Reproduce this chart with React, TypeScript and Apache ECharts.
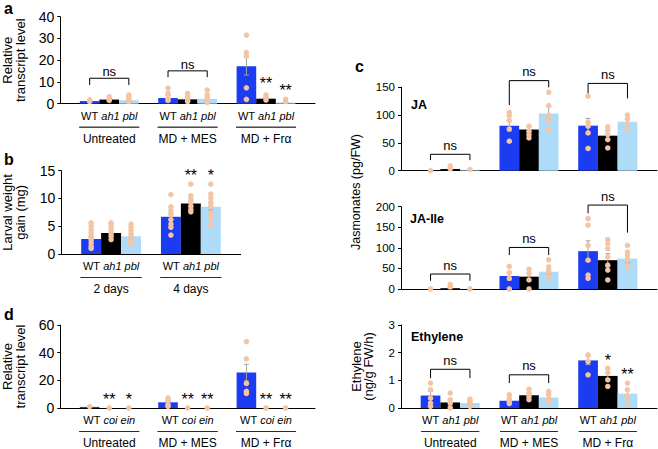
import React, { useEffect, useRef } from 'react';
import * as echarts from 'echarts';

const FONT = '"Liberation Sans", Arial, Helvetica, sans-serif';

const treatments = ['Untreated', 'MD + MES', 'MD + Frα'];
const days = ['2 days', '4 days'];
const genotypesAh = ['WT', 'ah1', 'pbl'];
const genotypesCoi = ['WT', 'coi', 'ein'];
const barColors = ['#1c3cf2', '#000000', '#aedcf8'];
const dotColor = '#f5c4a3';

// Panel a: relative transcript level
const aMeans = [[1.2, 1.9, 1.6], [2.6, 2.0, 2.2], [17.2, 2.3, 0.6]];
const aSE = [[0.3, 0.4, 0.6], [1.2, 0.8, 1.0], [4.0, 0.5, 0.3]];
const aDots = [
  [[1.8, 1.0], [3.2, 2.2, 1.5], [4.0, 3.0, 2.0, 1.0]],
  [[7.2, 4.8, 2.5, 1.5], [4.8, 3.3, 1.7, 1.0], [6.3, 4.1, 2.5, 1.5, 0.5]],
  [[31.5, 23.5, 22.0, 7.3, 2.0], [4.1, 3.0, 1.7], [2.0, 1.0]],
];
const aStars = [[2, 1, '**', 10.9], [2, 2, '**', 7.6]];
const aBrackets = [[0, 11.7, 8.6, 8.6], [1, 15.1, 12.2, 12.2]];

// Panel b: larval weight gain
const bMeans = [[2.7, 3.8, 3.2], [6.7, 9.1, 8.5]];
const bSE = [[0.35, 0.3, 0.35], [0.5, 0.4, 0.6]];
const bDots = [
  [[5.6, 5.0, 4.4, 3.8, 3.2, 2.6, 2.0, 1.4, 1.0], [5.6, 5.0, 4.4, 3.8, 3.2, 2.6], [5.4, 4.8, 4.2, 3.6, 3.0, 2.4, 1.8]],
  [[10.7, 8.5, 7.8, 7.2, 6.2, 5.4, 4.8, 3.4], [12.6, 10.5, 9.9, 9.3, 8.6, 8.0, 7.6], [12.6, 10.8, 10.1, 9.3, 8.6, 7.4, 6.4, 5.3]],
];
const bStars = [[1, 1, '**', 14.7], [1, 2, '*', 14.7]];
const bBrackets: number[][] = [];

// Panel d: relative transcript level (coi / ein)
const dMeans = [[0.8, 0, 0], [4.1, 0, 0], [25.6, 0, 0]];
const dSE = [[0.2, 0, 0], [1.5, 0, 0], [6.0, 0, 0]];
const dDots = [
  [[1.0], [0], [0]],
  [[7.3, 5.6, 2.4, 1.2], [0], [0]],
  [[48.0, 35.5, 17.8, 12.0, 10.5], [0], [0]],
];
const dStars = [[0, 1, '**', 8.9], [0, 2, '*', 8.9], [1, 1, '**', 8.9], [1, 2, '**', 8.9], [2, 1, '**', 8.9], [2, 2, '**', 8.9]];
const dBrackets: number[][] = [];

// Panel c: JA
const jaMeans = [[0, 3, 1], [81, 74, 103], [81, 63, 88]];
const jaSE = [[0, 2, 0.5], [9.5, 4, 12], [13, 7.6, 4]];
const jaDots = [
  [[0], [8.5, 4], [2]],
  [[105, 99, 90, 75, 53], [80, 71, 65, 59], [141, 117, 99, 90, 74]],
  [[134, 87, 80, 68, 40], [79, 74, 65, 56, 41], [100, 93, 84, 74]],
];
const jaBrackets = [[0, 29.5, 19, 19], [1, 162, 118, 150], [2, 157, 139, 130]];
const jaStars: any[] = [];

// Panel c: JA-Ile
const ileMeans = [[0, 2, 0], [31.5, 30, 42], [92, 70, 74]];
const ileSE = [[0, 1.5, 0], [10, 8, 6], [25, 16, 10]];
const ileDots = [
  [[0], [11, 5], [0]],
  [[55, 40, 26, 0], [48, 38, 22, 0], [71, 54, 42, 30]],
  [[171, 155, 106, 70, 34, 26], [120, 110, 98, 78, 58, 46, 22], [106, 90, 80, 70, 54]],
];
const ileBrackets = [[0, 36.4, 20, 20], [1, 101, 82.5, 82.5], [2, 204, 184, 137]];
const ileStars: any[] = [];

// Panel c: Ethylene
const ethMeans = [[0.45, 0.2, 0.18], [0.26, 0.46, 0.38], [1.72, 1.16, 0.52]];
const ethSE = [[0.15, 0.1, 0.05], [0.06, 0.08, 0.07], [0.15, 0.1, 0.15]];
const ethDots = [
  [[0.9, 0.66, 0.36, 0.18, 0.06], [0.54, 0.3, 0.18, 0.0], [0.32, 0.24, 0.16, 0.06]],
  [[0.48, 0.36, 0.24, 0.16], [0.68, 0.54, 0.42, 0.3], [0.6, 0.48, 0.32, 0.24]],
  [[1.92, 1.68, 1.2], [1.44, 1.28, 1.02, 0.78], [0.9, 0.66, 0.42, 0.18]],
];
const ethStars = [[2, 1, '*', 1.86], [2, 2, '**', 1.32]];
const ethBrackets = [[0, 1.4, 1.08, 1.08], [1, 1.2, 0.9, 0.9]];

type Panel = {
  groups: string[]; genos: string[]; means: number[][]; se: number[][]; dots: number[][][];
  stars: any[]; brackets: number[][]; box: number[]; yMax: number; yInt: number; tickFont: number;
  yName?: string; nameGap?: number; showX: boolean; nsGap: number; lineW: number;
};

const panels: Panel[] = [
  { groups: treatments, genos: genotypesAh, means: aMeans, se: aSE, dots: aDots, stars: aStars, brackets: aBrackets,
    box: [58, 16.7, 257, 87], yMax: 40, yInt: 10, tickFont: 14, yName: 'Relative\ntranscript level', nameGap: 34, showX: true, nsGap: 0, lineW: 60 },
  { groups: days, genos: genotypesAh, means: bMeans, se: bSE, dots: bDots, stars: bStars, brackets: bBrackets,
    box: [58, 170.7, 182.7, 83.3], yMax: 15, yInt: 5, tickFont: 14, yName: 'Larval weight\ngain (mg)', nameGap: 35, showX: true, nsGap: 0, lineW: 61 },
  { groups: treatments, genos: genotypesCoi, means: dMeans, se: dSE, dots: dDots, stars: dStars, brackets: dBrackets,
    box: [58, 325, 257, 83.3], yMax: 60, yInt: 20, tickFont: 14, yName: 'Relative\ntranscript level', nameGap: 34, showX: true, nsGap: 0, lineW: 60 },
  { groups: treatments, genos: genotypesAh, means: jaMeans, se: jaSE, dots: jaDots, stars: jaStars, brackets: jaBrackets,
    box: [401, 87.3, 256, 83.4], yMax: 150, yInt: 50, tickFont: 11.5, showX: false, nsGap: 2.5, lineW: 58 },
  { groups: treatments, genos: genotypesAh, means: ileMeans, se: ileSE, dots: ileDots, stars: ileStars, brackets: ileBrackets,
    box: [401, 206.7, 256, 82.3], yMax: 200, yInt: 50, tickFont: 11.5, showX: false, nsGap: 2.5, lineW: 58 },
  { groups: treatments, genos: genotypesAh, means: ethMeans, se: ethSE, dots: ethDots, stars: ethStars, brackets: ethBrackets,
    box: [401, 325, 256, 83.3], yMax: 3, yInt: 1, tickFont: 11.5, yName: 'Ethylene\n(ng/g FW/h)', nameGap: 26, showX: true, nsGap: 2.5, lineW: 58 },
];

const slotOf = (g: number, k: number) => 1 + 4 * g + k;

function buildOption() {
  const grid: any[] = [];
  const xAxis: any[] = [];
  const yAxis: any[] = [];
  const series: any[] = [];

  panels.forEach((p, i) => {
    const n = p.groups.length;
    const slots = 4 * n + 1;
    grid.push({ left: p.box[0], top: p.box[1], width: p.box[2], height: p.box[3] });
    xAxis.push({
      type: 'category', gridIndex: i, boundaryGap: true,
      data: Array.from({ length: slots }, (_, j) => 's' + j),
      axisLine: { show: true, lineStyle: { color: '#000', width: 1 } },
      axisTick: { show: false },
      axisLabel: p.showX ? {
        show: true, margin: 5, color: '#000', fontSize: 11, fontFamily: FONT,
        interval: (j: number) => j > 0 && (j - 1) % 4 === 1,
        formatter: (_v: string, j: number) => {
          const g = Math.floor((j - 1) / 4);
          if (g < 0 || g >= n) return '';
          return `{n|${p.genos[0]}} {i|${p.genos[1]}} {i|${p.genos[2]}}\n{ln|}\n{g|${p.groups[g]}}`;
        },
        rich: {
          n: { fontSize: 11, lineHeight: 14, fontFamily: FONT, color: '#000' },
          i: { fontSize: 11, lineHeight: 14, fontStyle: 'italic', fontFamily: FONT, color: '#000' },
          ln: { width: p.lineW, height: 0, lineHeight: 9, borderColor: '#222', borderWidth: 0.8 },
          g: { fontSize: 12, lineHeight: 14, fontFamily: FONT, color: '#000' },
        },
      } : { show: false },
    });
    yAxis.push({
      type: 'value', gridIndex: i, min: 0, max: p.yMax, interval: p.yInt,
      axisLine: { show: true, lineStyle: { color: '#000', width: 1 } },
      axisTick: { show: true, length: 3, lineStyle: { color: '#000' } },
      splitLine: { show: false },
      axisLabel: { fontSize: p.tickFont, color: '#000', margin: 6, fontFamily: FONT },
      name: p.yName || '', nameLocation: 'middle', nameGap: p.nameGap || 30,
      nameTextStyle: { fontSize: 13, lineHeight: 12.5, color: '#000', fontFamily: FONT },
    });

    const barData: any[] = Array.from({ length: slots }, () => '-');
    const errData: number[][] = [];
    const dotData: number[][] = [];
    p.means.forEach((row, g) => row.forEach((m, k) => {
      barData[slotOf(g, k)] = { value: m, itemStyle: { color: barColors[k] } };
      if (p.se[g][k] > 0) errData.push([slotOf(g, k), m, p.se[g][k]]);
      p.dots[g][k].forEach((v) => dotData.push([slotOf(g, k), v]));
    }));

    series.push({
      type: 'bar', xAxisIndex: i, yAxisIndex: i, barCategoryGap: '0%', data: barData, z: 2,
    });
    series.push({
      type: 'custom', xAxisIndex: i, yAxisIndex: i, z: 3, data: errData,
      renderItem: (_params: any, api: any) => {
        const x = api.value(0), m = api.value(1), s = api.value(2);
        const hi = api.coord([x, m + s]);
        const lo = api.coord([x, Math.max(0, m - s)]);
        const hw = 2.5;
        const st = { stroke: '#a3a3a3', lineWidth: 1 };
        return {
          type: 'group', children: [
            { type: 'line', shape: { x1: hi[0], y1: hi[1], x2: lo[0], y2: lo[1] }, style: st },
            { type: 'line', shape: { x1: hi[0] - hw, y1: hi[1], x2: hi[0] + hw, y2: hi[1] }, style: st },
            { type: 'line', shape: { x1: lo[0] - hw, y1: lo[1], x2: lo[0] + hw, y2: lo[1] }, style: st },
          ],
        };
      },
    });
    series.push({
      type: 'scatter', xAxisIndex: i, yAxisIndex: i, z: 4, symbol: 'circle', symbolSize: 5.5,
      itemStyle: { color: dotColor, opacity: 1 }, data: dotData,
    });
    if (p.brackets.length) {
      series.push({
        type: 'custom', xAxisIndex: i, yAxisIndex: i, z: 5, clip: false,
        data: p.brackets.map((b) => [slotOf(b[0], 0), b[1], b[2], b[3], slotOf(b[0], 2)]),
        renderItem: (_params: any, api: any) => {
          const xl = api.value(0), top = api.value(1), lb = api.value(2), rb = api.value(3), xr = api.value(4);
          const tl = api.coord([xl, top]);
          const tr = api.coord([xr, top]);
          const bl = api.coord([xl, lb]);
          const br = api.coord([xr, rb]);
          return {
            type: 'group', children: [
              { type: 'polyline', shape: { points: [bl, tl, tr, br] }, style: { stroke: '#000', lineWidth: 1, fill: null } },
              { type: 'text', x: (tl[0] + tr[0]) / 2, y: tl[1] - p.nsGap,
                style: { text: 'ns', font: `13px ${FONT}`, fill: '#000', align: 'center', textAlign: 'center', verticalAlign: 'bottom', textVerticalAlign: 'bottom' } },
            ],
          };
        },
      });
    }
    if (p.stars.length) {
      series.push({
        type: 'custom', xAxisIndex: i, yAxisIndex: i, z: 5, clip: false,
        data: p.stars.map((s) => [slotOf(s[0], s[1]), s[3]]),
        renderItem: (params: any, api: any) => {
          const c = api.coord([api.value(0), api.value(1)]);
          const txt = p.stars[params.dataIndex][2];
          return {
            type: 'text', x: c[0], y: c[1] + 3.5,
            style: { text: txt, font: `16px ${FONT}`, fill: '#000', align: 'center', textAlign: 'center', verticalAlign: 'middle', textVerticalAlign: 'middle' },
          };
        },
      });
    }
  });

  const txt = (text: string, x: number, y: number, font: string, extra: any = {}) => ({
    type: 'text', x, y, ...extra,
    style: { text, font, fill: '#000', align: 'left', textAlign: 'left', verticalAlign: 'middle', textVerticalAlign: 'middle' },
  });

  const graphic = [
    txt('a', 4, 8, `bold 16px ${FONT}`),
    txt('b', 4, 159.5, `bold 16px ${FONT}`),
    txt('c', 355, 66.5, `bold 16px ${FONT}`),
    txt('d', 4, 314.5, `bold 16px ${FONT}`),
    txt('JA', 411, 105, `bold 12.5px ${FONT}`),
    txt('JA-Ile', 410, 219, `bold 12.5px ${FONT}`),
    txt('Ethylene', 411, 337, `bold 12.5px ${FONT}`),
    {
      type: 'text', x: 356, y: 192, rotation: Math.PI / 2,
      style: { text: 'Jasmonates (pg/FW)', font: `12.5px ${FONT}`, fill: '#000', align: 'center', textAlign: 'center', verticalAlign: 'middle', textVerticalAlign: 'middle' },
    },
  ];

  return {
    animation: false,
    backgroundColor: '#ffffff',
    textStyle: { fontFamily: FONT },
    grid, xAxis, yAxis, series, graphic,
  };
}

export default function App() {
  const ref = useRef<HTMLDivElement>(null);
  useEffect(() => {
    document.body.style.margin = '0';
    if (!ref.current) return;
    const chart = echarts.init(ref.current, undefined, { renderer: 'svg' });
    chart.setOption(buildOption() as any);
    return () => chart.dispose();
  }, []);
  return <div ref={ref} style={{ width: 658, height: 449, position: 'absolute', left: 0, top: 0 }} />;
}
